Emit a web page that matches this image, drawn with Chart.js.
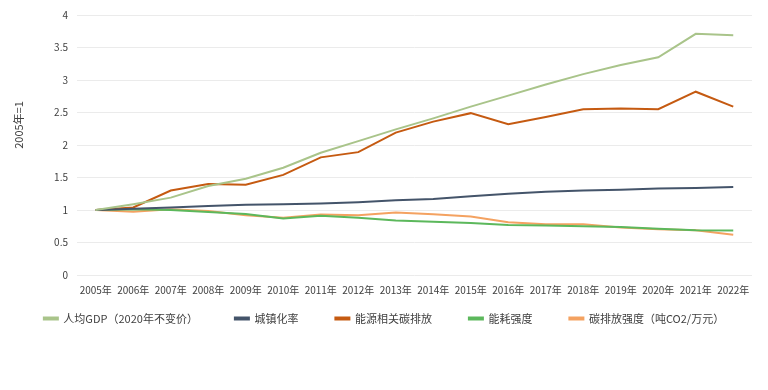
<!DOCTYPE html>
<html>
<head>
<meta charset="utf-8">
<script src="https://cdn.jsdelivr.net/npm/chart.js"></script>
<style>
  html, body { margin: 0; padding: 0; background: #fff; }
  #wrap { width: 768px; height: 390px; position: relative; }
</style>
</head>
<body>
<div id="wrap"><canvas id="chart"></canvas></div>
<script>
const years = ['2005年', '2006年', '2007年', '2008年', '2009年', '2010年', '2011年', '2012年', '2013年',
    '2014年', '2015年', '2016年', '2017年', '2018年', '2019年', '2020年', '2021年', '2022年'];

const gdpPerCapita = [1.00, 1.09, 1.19, 1.37, 1.48, 1.65, 1.88, 2.06, 2.24, 2.41, 2.59, 2.76, 2.93, 3.09, 3.23, 3.35, 3.71, 3.69];
const urbanization = [1.00, 1.02, 1.04, 1.06, 1.08, 1.09, 1.10, 1.12, 1.15, 1.17, 1.21, 1.25, 1.28, 1.30, 1.31, 1.33, 1.34, 1.355];
const carbonEmission = [1.00, 1.04, 1.30, 1.40, 1.39, 1.54, 1.81, 1.89, 2.19, 2.36, 2.49, 2.32, 2.43, 2.55, 2.56, 2.55, 2.82, 2.59];
const energyIntensity = [1.00, 1.01, 1.00, 0.97, 0.94, 0.87, 0.91, 0.88, 0.84, 0.82, 0.80, 0.77, 0.76, 0.75, 0.74, 0.71, 0.69, 0.685];
const carbonIntensity = [1.00, 0.975, 1.01, 0.985, 0.92, 0.88, 0.93, 0.92, 0.96, 0.935, 0.90, 0.81, 0.78, 0.78, 0.73, 0.705, 0.69, 0.62];

const FONT = '"Noto Sans CJK SC", "Noto Sans", sans-serif';

function series(label, data, color) {
    return {
        label: label,
        data: data,
        borderColor: color,
        backgroundColor: color,
        borderWidth: 2,
        pointRadius: 0,
        tension: 0,
        fill: false
    };
}

// rotated y title, placed like the original (a bit above the axis middle)
const yTitle = {
    id: 'yTitle',
    afterDraw(chart) {
        const ctx = chart.ctx;
        ctx.save();
        ctx.translate(19, 125);
        ctx.rotate(-Math.PI / 2);
        ctx.font = '11px ' + FONT;
        ctx.fillStyle = '#404040';
        ctx.textAlign = 'center';
        ctx.textBaseline = 'middle';
        ctx.fillText('2005年=1', 0, 0);
        ctx.restore();
    }
};

// wide legend padding spaces the items out, but pushes the row down; pull it back up
const legendShift = {
    id: 'legendShift',
    afterLayout(chart) {
        chart.legend.top -= 21;
        chart.legend.bottom -= 21;
    }
};

new Chart(document.getElementById('chart'), {
    type: 'line',
    data: {
        labels: years,
        datasets: [
            series('人均GDP（2020年不变价）', gdpPerCapita, '#a9c48a'),
            series('城镇化率', urbanization, '#44546a'),
            series('能源相关碳排放', carbonEmission, '#c55a11'),
            series('能耗强度', energyIntensity, '#5cb85c'),
            series('碳排放强度（吨CO2/万元）', carbonIntensity, '#f4a261')
        ]
    },
    options: {
        responsive: true,
        maintainAspectRatio: false,
        animation: false,
        layout: { padding: { left: 0, right: 0, top: 13, bottom: 35 } },
        plugins: {
            legend: {
                position: 'bottom',
                labels: {
                    boxWidth: 14,
                    boxHeight: 2,
                    padding: 37,
                    color: '#404040',
                    font: { family: FONT, size: 11 }
                }
            },
            tooltip: { enabled: false }
        },
        scales: {
            x: {
                offset: true,
                grid: { display: false },
                border: { display: false },
                ticks: {
                    color: '#404040',
                    font: { family: FONT, size: 10 },
                    maxRotation: 0,
                    autoSkip: false,
                    padding: 1
                }
            },
            y: {
                min: 0,
                max: 4,
                grid: { color: '#ebebeb', drawTicks: false, lineWidth: 1 },
                border: { display: false },
                afterFit(scale) { scale.width = 77; },
                ticks: {
                    stepSize: 0.5,
                    color: '#404040',
                    font: { family: FONT, size: 10 },
                    padding: 9,
                    callback: v => String(Math.round(v * 10) / 10)
                }
            },
            // empty right axis, only keeps a margin right of the plot
            yRight: {
                position: 'right',
                grid: { display: false },
                border: { display: false },
                ticks: { display: false },
                afterFit(scale) { scale.width = 16; }
            }
        }
    },
    plugins: [yTitle, legendShift]
});
</script>
</body>
</html>
